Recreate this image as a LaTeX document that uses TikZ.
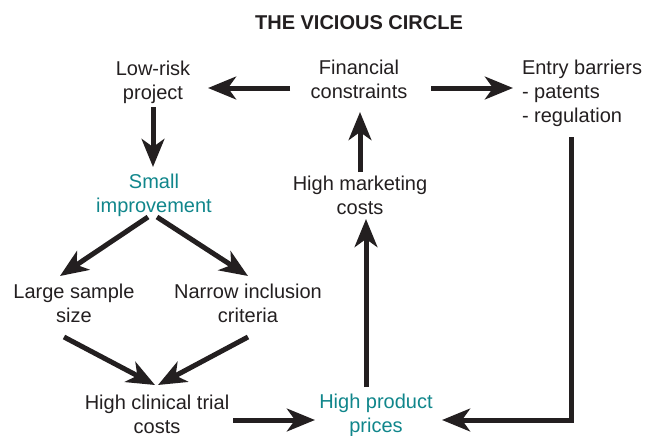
\documentclass[tikz,border=0pt]{standalone}
\usepackage{fontspec}
\setmainfont{Liberation Sans}
\usetikzlibrary{arrows.meta}
\definecolor{ink}{RGB}{35,31,32}
\definecolor{tealtxt}{RGB}{16,134,139}
\begin{document}
\begin{tikzpicture}[x=0.75pt,y=-0.75pt,
  lbl/.style={inner sep=0pt, outer sep=0pt, align=center, anchor=base, text=ink,
              font=\fontsize{15}{18}\selectfont},
  hl/.style={text=tealtxt},
  arr/.style={draw=ink, line width=3.75pt, miter limit=10,
              -{Stealth[length=21pt,width=17pt,inset=6pt]}}]
\useasboundingbox (0,0) rectangle (647,436);
% title
\node[lbl, font=\bfseries\fontsize{15}{18}\selectfont] (title) at (359,29) {THE VICIOUS CIRCLE};
% nodes (anchored at the baseline of their last line)
\node[lbl] (low) at (153,99) {Low-risk\\project};
\node[lbl] (fin) at (359,98) {Financial\\constraints};
\node[lbl, align=left, anchor=base west] (entry) at (522,122) {Entry barriers\\- patents\\- regulation};
\node[lbl, hl] (small) at (154,212) {Small\\improvement};
\node[lbl] (mkt) at (360,214) {High marketing\\costs};
\node[lbl] (large) at (74,322) {Large sample\\size};
\node[lbl] (narrow) at (248,322) {Narrow inclusion\\criteria};
\node[lbl] (clin) at (157,433) {High clinical trial\\costs};
\node[lbl, hl] (prod) at (376,432) {High product\\prices};
% connectors
\draw[arr] ([shift={(-69,-10)}]fin.base) -- ([shift={(55,-11)}]low.base);
\draw[arr] ([shift={(72,-10)}]fin.base) -- ([shift={(-9,-34)}]entry.base west);
\draw[arr] ([shift={(0,8)}]low.base) -- ([shift={(-1,-45)}]small.base);
\draw[arr] ([shift={(0,-42)}]mkt.base) -- ([shift={(1,14)}]fin.base);
\draw[arr] ([shift={(-10,-45)}]prod.base) -- ([shift={(6,5)}]mkt.base);
\draw[arr] ([shift={(-6,5)}]small.base) -- ([shift={(-14,-46)}]large.base);
\draw[arr] ([shift={(3,5)}]small.base) -- ([shift={(0,-46)}]narrow.base);
\draw[arr] ([shift={(-10,15)}]large.base) -- ([shift={(-2,-48)}]clin.base);
\draw[arr] ([shift={(0,15)}]narrow.base) -- ([shift={(1,-48)}]clin.base);
\draw[arr] ([shift={(76,-13)}]clin.base) -- ([shift={(-61,-12)}]prod.base);
\draw[arr] ([shift={(49,15)}]entry.base west) |- ([shift={(66,-12)}]prod.base);
\end{tikzpicture}
\end{document}
